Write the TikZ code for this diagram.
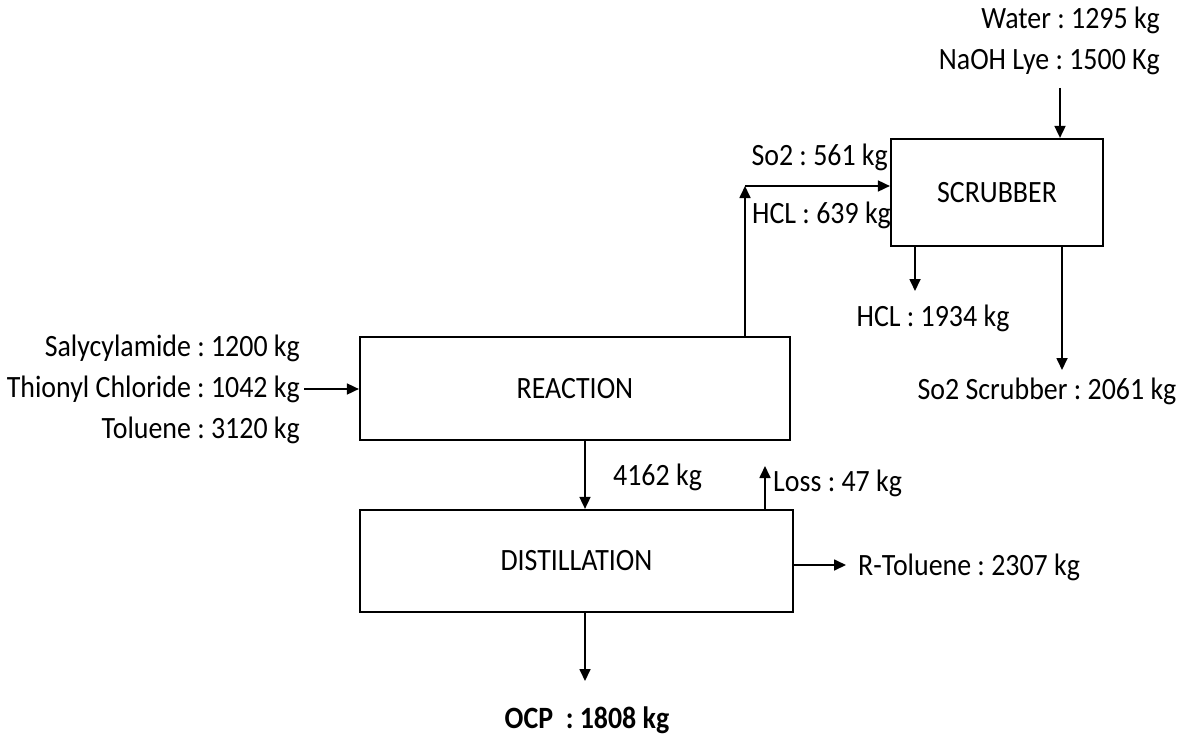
\documentclass[tikz,border=0pt]{standalone}
\usepackage{fontspec}
\setmainfont{Carlito}[FakeStretch=0.9]
\usetikzlibrary{arrows.meta}
\frenchspacing
\tikzset{
  procbox/.style={draw, line width=2.2pt, minimum width=#1, inner sep=0pt, font=\fontsize{31}{37}\selectfont},
  lbl/.style={inner sep=0pt, font=\fontsize{31}{37}\selectfont},
  flow/.style={line width=1.7pt, -{Triangle[length=12pt,width=11pt]}}
}
\begin{document}
\begin{tikzpicture}[x=1pt,y=-1pt]
\useasboundingbox (0,0) rectangle (1185,738);
% boxes
\node[procbox=430pt, minimum height=103pt] (reac) at (575,388.5) {REACTION};
\node[procbox=433pt, minimum height=102pt] (dist) at (576.5,561) {DISTILLATION};
\node[procbox=212pt, minimum height=107pt] (scrub) at (997,192.5) {SCRUBBER};
% labels
\node[lbl, anchor=east] (in1) at (300,348) {Salycylamide : 1200 kg};
\node[lbl, anchor=east] (in2) at (300,389) {Thionyl Chloride : 1042 kg};
\node[lbl, anchor=east] (in3) at (300,430) {Toluene : 3120 kg};
\node[lbl, anchor=east] (water) at (1160,20) {Water : 1295 kg};
\node[lbl, anchor=east] (naoh) at (1160,62) {NaOH Lye : 1500 Kg};
\node[lbl, anchor=east] (so2in) at (888,157) {So2 : 561 kg};
\node[lbl, anchor=west] (hclin) at (752,215) {HCL : 639 kg};
\node[lbl] (hclout) at (933,318) {HCL : 1934 kg};
\node[lbl] (so2out) at (1047,391) {So2 Scrubber : 2061 kg};
\node[lbl, anchor=west] (m4162) at (613,477) {4162 kg};
\node[lbl, anchor=west] (loss) at (773,483) {Loss : 47 kg};
\node[lbl, anchor=west] (rtol) at (858,567) {R-Toluene : 2307 kg};
\node[lbl, font=\fontsize{31}{37}\selectfont\bfseries] (ocp) at (587,720) {OCP\ \ : 1808 kg};
% coordinates
\coordinate (c1) at (745,186);
\coordinate (wtop) at (1060,88);
\coordinate (h1) at (915,291);
\coordinate (h2) at (1062,370);
\coordinate (mid) at (585,475);
\coordinate (lossc) at (765,466);
\coordinate (rt) at (846,565);
\coordinate (oc) at (585,681);
% connectors
\draw[flow] ([xshift=4pt]in2.east) -- (in2.east -| reac.west);
\draw[flow] (reac.north -| c1) -- (c1);
\draw[flow] (c1) -- (c1 -| scrub.west);
\draw[flow] (wtop) -- (wtop |- scrub.north);
\draw[flow] (h1 |- scrub.south) -- (h1);
\draw[flow] (h2 |- scrub.south) -- (h2);
\draw[flow] (mid |- reac.south) -- (mid |- dist.north);
\draw[flow] (lossc |- dist.north) -- (lossc);
\draw[flow] (rt -| dist.east) -- (rt);
\draw[flow] (oc |- dist.south) -- (oc);
\end{tikzpicture}
\end{document}
